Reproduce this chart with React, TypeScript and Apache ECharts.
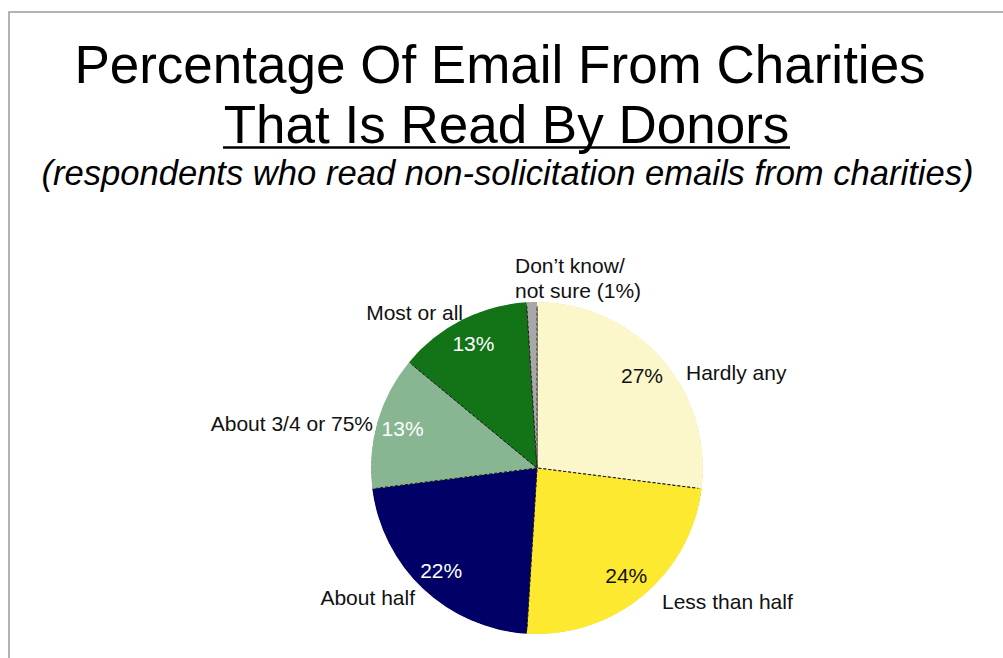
import React, { useEffect, useRef } from "react";
import * as echarts from "echarts";

const categories = [
  "Hardly any",
  "Less than half",
  "About half",
  "About 3/4 or 75%",
  "Most or all",
  "Don\u2019t know/\nnot sure (1%)",
];
const values = [27, 24, 22, 13, 13, 1];
const sliceColors = ["#FBF7CB", "#FDE92F", "#000066", "#89B692", "#127317", "#A8A8A8"];
const pctColors = ["#111111", "#111111", "#FFFFFF", "#FFFFFF", "#FFFFFF", "#111111"];
const showPct = [true, true, true, true, true, false];

// label anchor layout (x, y, align) for category names
const nameAnchors: [number, number, string][] = [
  [686, 372, "left"],
  [662, 601, "left"],
  [415, 597, "right"],
  [373, 423, "right"],
  [463, 312, "right"],
  [515, 278, "left"],
];

const FONT = "Arial, 'Liberation Sans', Helvetica, sans-serif";

export default function App() {
  const ref = useRef<HTMLDivElement>(null);
  useEffect(() => {
    if (!ref.current) return;
    const chart = echarts.init(ref.current, undefined, { renderer: "svg" });
    const center = [537, 468];
    const R = 165;

    const baseData = categories.map((c, i) => ({
      name: c,
      value: values[i],
      itemStyle: { color: sliceColors[i] },
    }));

    chart.setOption({
      animation: false,
      backgroundColor: "#ffffff",
      graphic: [
        {
          type: "rect",
          shape: { x: 9, y: 12, width: 1200, height: 900 },
          style: { fill: "none", stroke: "#9a9a9a", lineWidth: 1.5 },
          silent: true,
        },
        {
          type: "text",
          style: {
            text: "Percentage Of Email From Charities",
            x: 500,
            y: 64,
            font: `53px ${FONT}`,
            fill: "#000",
            align: "center",
            verticalAlign: "middle",
            textAlign: "center",
            textVerticalAlign: "middle",
          },
        },
        {
          type: "text",
          style: {
            text: "That Is Read By Donors",
            x: 506.5,
            y: 124,
            font: `53px ${FONT}`,
            fill: "#000",
            align: "center",
            verticalAlign: "middle",
            textAlign: "center",
            textVerticalAlign: "middle",
          },
        },
        {
          type: "line",
          shape: { x1: 223, y1: 147.5, x2: 790, y2: 147.5 },
          style: { stroke: "#000", lineWidth: 2.5 },
        },
        {
          type: "text",
          style: {
            text: "(respondents who read non-solicitation emails from charities)",
            x: 507.5,
            y: 173,
            font: `italic 34.6px ${FONT}`,
            fill: "#000",
            align: "center",
            verticalAlign: "middle",
            textAlign: "center",
            textVerticalAlign: "middle",
          },
        },
      ],
      series: [
        {
          type: "pie",
          center,
          radius: [0, R],
          startAngle: 90,
          clockwise: true,
          silent: true,
          avoidLabelOverlap: false,
          label: { show: false },
          labelLine: { show: false },
          itemStyle: { borderColor: "#1a1a1a", borderWidth: 1, borderType: [3, 2] },
          data: baseData,
        },
        {
          type: "pie",
          center,
          radius: [R - 3, R + 1],
          startAngle: 90,
          clockwise: true,
          silent: true,
          avoidLabelOverlap: false,
          itemStyle: { borderWidth: 0 },
          label: {
            show: true,
            position: "outside",
            formatter: "{b}",
            fontFamily: FONT,
            fontSize: 21,
            color: "#111",
            lineHeight: 25,
          },
          labelLine: { show: false },
          labelLayout: (p: any) => {
            const a = nameAnchors[p.dataIndex];
            return { x: a[0], y: a[1], align: a[2], verticalAlign: "middle" };
          },
          data: baseData,
        },
        {
          type: "pie",
          center,
          radius: [0, 274],
          startAngle: 90,
          clockwise: true,
          silent: true,
          avoidLabelOverlap: false,
          itemStyle: { color: "rgba(0,0,0,0)", borderWidth: 0 },
          labelLine: { show: false },
          label: {
            show: true,
            position: "inside",
            formatter: "{c}%",
            fontFamily: FONT,
            fontSize: 21,
          },
          data: categories.map((c, i) => ({
            name: c,
            value: values[i],
            itemStyle: { color: "rgba(0,0,0,0)" },
            label: { show: showPct[i], color: pctColors[i] },
          })),
        },
      ],
    });
    return () => chart.dispose();
  }, []);
  return (
    <div
      ref={ref}
      style={{ position: "fixed", left: 0, top: 0, width: "1003px", height: "658px" }}
    />
  );
}
